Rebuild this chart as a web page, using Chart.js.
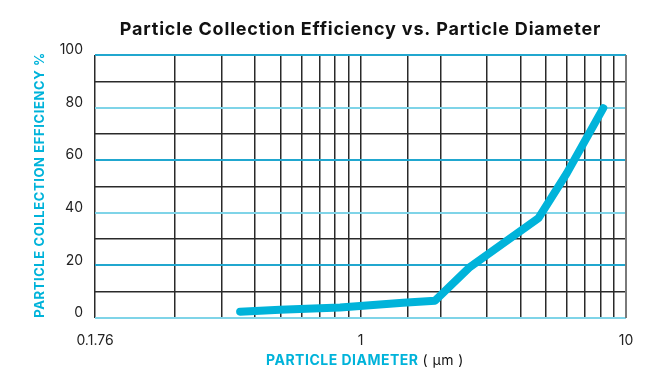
<!DOCTYPE html>
<html>
<head>
<meta charset="utf-8">
<script src="https://cdn.jsdelivr.net/npm/chart.js@4.4.1/dist/chart.umd.min.js"></script>
<style>
  html, body { margin: 0; padding: 0; background: #fff; }
  #wrap { width: 658px; height: 383px; }
</style>
</head>
<body>
<div id="wrap"><canvas id="c" width="658" height="383"></canvas></div>
<script>
// ---- data ----
const diameters = [0.352, 0.497, 0.837, 1.446, 1.909, 2.585, 4.675, 5.98, 8.21];
const efficiency = [2.4, 3.1, 4.0, 5.8, 6.6, 19.4, 37.9, 55, 79.8];
const xTickLabels = { 0.1: '0.1.76', 1: '1', 10: '10' };
const yTickLabels = [0, 20, 40, 60, 80, 100];
const chartTitle = 'Particle Collection Efficiency vs. Particle Diameter';
const yTitle = 'PARTICLE COLLECTION EFFICIENCY %';
const xTitleMain = 'PARTICLE DIAMETER';
const xTitleUnit = '( μm )';

const FONT = 'Inter, "DejaVu Sans", sans-serif';
const BLUE = '#00b3da';

function setSpacing(ctx, s) { if ('letterSpacing' in ctx) ctx.letterSpacing = s; }

const textPlugin = {
  id: 'texts',
  afterDraw(chart) {
    const ctx = chart.ctx;
    const ca = chart.chartArea;
    const cx = (ca.left + ca.right) / 2;
    ctx.save();
    // title
    ctx.fillStyle = '#111';
    ctx.font = 'bold 18px ' + FONT;
    setSpacing(ctx, '0.8px');
    ctx.textAlign = 'center';
    ctx.textBaseline = 'middle';
    ctx.fillText(chartTitle, cx, 30);
    // y title
    ctx.save();
    ctx.translate(40, 185);
    ctx.rotate(-Math.PI / 2);
    ctx.fillStyle = BLUE;
    ctx.font = 'bold 13px ' + FONT;
    setSpacing(ctx, '0.6px');
    ctx.fillText(yTitle, 0, 0);
    ctx.restore();
    // x title (two styles)
    setSpacing(ctx, '0.5px');
    ctx.font = 'bold 14px ' + FONT;
    const w1 = ctx.measureText(xTitleMain + ' ').width;
    ctx.font = '14px ' + FONT;
    const w2 = ctx.measureText(xTitleUnit).width;
    const start = 365 - (w1 + w2) / 2;
    ctx.textAlign = 'left';
    ctx.font = 'bold 14px ' + FONT;
    ctx.fillStyle = BLUE;
    ctx.fillText(xTitleMain, start, 361);
    ctx.font = '14px ' + FONT;
    ctx.fillStyle = '#111';
    ctx.fillText(xTitleUnit, start + w1, 361);
    setSpacing(ctx, '0px');
    // right border
    ctx.strokeStyle = '#7a7a7a';
    ctx.lineWidth = 2;
    ctx.beginPath();
    ctx.moveTo(ca.right, ca.top);
    ctx.lineTo(ca.right, ca.bottom);
    ctx.stroke();
    ctx.restore();
  }
};

new Chart(document.getElementById('c'), {
  type: 'line',
  data: {
    datasets: [{
      data: diameters.map((d, i) => ({ x: d, y: efficiency[i] })),
      borderColor: BLUE,
      borderWidth: 8,
      borderCapStyle: 'round',
      borderJoinStyle: 'round',
      pointRadius: 0,
      tension: 0,
      fill: false
    }]
  },
  options: {
    responsive: false,
    animation: false,
    layout: { padding: { top: 55, right: 32, left: 0, bottom: 0 } },
    plugins: { legend: { display: false }, title: { display: false }, tooltip: { enabled: false } },
    scales: {
      x: {
        type: 'logarithmic',
        min: 0.1,
        max: 10,
        border: { display: false },
        grid: {
          color: '#2a2a2a',
          lineWidth: 1.5,
          drawTicks: false
        },
        ticks: {
          autoSkip: false,
          maxRotation: 0,
          padding: 14,
          color: '#222',
          font: { family: FONT, size: 14 },
          callback: (v) => (xTickLabels[+v.toPrecision(6)] !== undefined ? xTickLabels[+v.toPrecision(6)] : '')
        },
        afterFit(scale) { scale.height = 65; }
      },
      y: {
        min: 0,
        max: 100,
        border: { display: false },
        grid: {
          drawTicks: false,
          color: (c) => {
            const v = c.tick.value;
            if (v % 20 !== 0) return '#2a2a2a';
            return (v === 100 || v === 60 || v === 20) ? '#21a7cf' : '#7fd4e8';
          },
          lineWidth: (c) => (c.tick.value % 20 === 0 ? 2 : 1.5)
        },
        ticks: {
          stepSize: 10,
          padding: 12,
          labelOffset: -5,
          color: '#222',
          font: { family: FONT, size: 14 },
          callback: (v) => (yTickLabels.includes(v) ? String(v) : '')
        },
        afterFit(scale) { scale.width = 95; }
      }
    }
  },
  plugins: [textPlugin]
});
</script>
</body>
</html>
